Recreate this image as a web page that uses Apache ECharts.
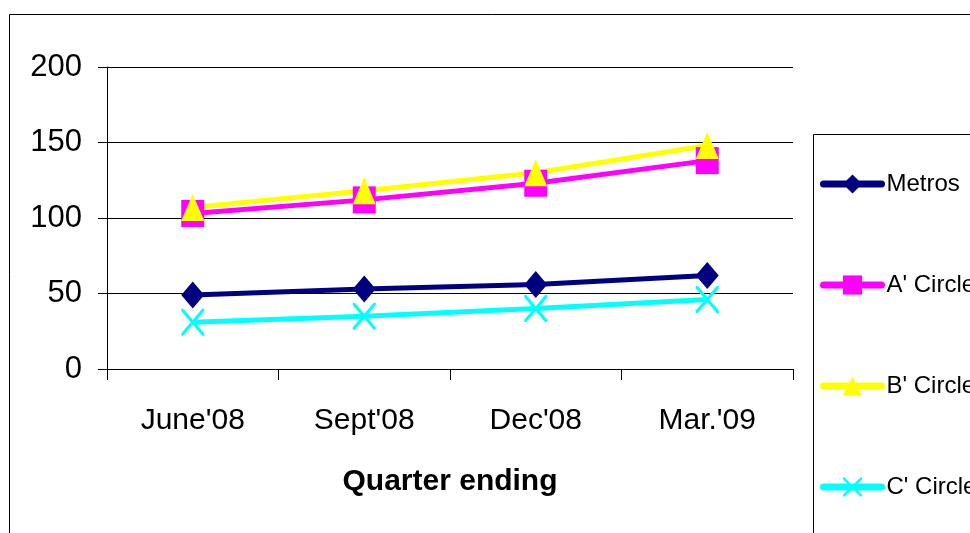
<!DOCTYPE html>
<html>
<head>
<meta charset="utf-8">
<script src="https://cdn.jsdelivr.net/npm/echarts@6/dist/echarts.min.js"></script>
<style>
  html, body { margin: 0; padding: 0; background: #fff; }
  #chart { width: 970px; height: 533px; }
</style>
</head>
<body>
<div id="chart"></div>
<script>
// Quarterly figures by circle category
const quarters = ["June'08", "Sept'08", "Dec'08", "Mar.'09"];
const metros  = [49, 53, 56, 62];
const aCircle = [103, 112, 123, 138];
const bCircle = [107, 118, 130, 148];
const cCircle = [31, 35, 40, 46];
const yTicks = { min: 0, max: 200, interval: 50 };

const FONT = "'Liberation Sans', Arial, sans-serif";
const crossPath = 'path://M0,0L9,0L50,41L91,0L100,0L100,9L59,50L100,91L100,100L91,100L50,59L9,100L0,100L0,91L41,50L0,9Z';

function lineSeries(name, data, color, symbol) {
  return {
    name: name,
    type: 'line',
    data: data,
    symbol: symbol,
    symbolSize: [23, 27],
    lineStyle: { color: color, width: 5 },
    itemStyle: { color: color },
    emphasis: { disabled: true },
    animation: false
  };
}

const chart = echarts.init(document.getElementById('chart'), null, { renderer: 'canvas' });
chart.setOption({
  backgroundColor: '#ffffff',
  animation: false,
  grid: { left: 107, top: 67, right: 177, bottom: 164 },
  xAxis: {
    type: 'category',
    data: quarters,
    boundaryGap: true,
    name: 'Quarter ending',
    nameLocation: 'middle',
    nameGap: 98,
    nameTextStyle: { fontFamily: FONT, fontSize: 30, fontWeight: 'bold', color: '#000' },
    axisLine: { lineStyle: { color: '#000', width: 1 } },
    axisTick: { show: true, length: 11, inside: false, lineStyle: { color: '#000' } },
    axisLabel: { fontFamily: FONT, fontSize: 30, color: '#000', margin: 37 }
  },
  yAxis: {
    type: 'value',
    min: yTicks.min,
    max: yTicks.max,
    interval: yTicks.interval,
    axisLine: { show: true, lineStyle: { color: '#000', width: 1 } },
    axisTick: { show: true, length: 9, lineStyle: { color: '#000' } },
    splitLine: { show: true, lineStyle: { color: '#000', width: 1 } },
    axisLabel: { fontFamily: FONT, fontSize: 31, color: '#000', margin: 25 }
  },
  legend: {
    orient: 'vertical',
    left: 815,
    top: 167,
    itemWidth: 58,
    itemHeight: 24,
    itemGap: 77,
    lineStyle: { width: 7, cap: 'round' },
    textStyle: { fontFamily: FONT, fontSize: 24, color: '#000' },
    data: ['Metros', "A' Circle", "B' Circle", "C' Circle"]
  },
  graphic: [
    { type: 'rect', shape: { x: 9.5, y: 14.5, width: 1000, height: 600 },
      style: { fill: null, stroke: '#000', lineWidth: 1 }, silent: true },
    { type: 'rect', shape: { x: 813.5, y: 134.5, width: 400, height: 600 },
      style: { fill: null, stroke: '#000', lineWidth: 1 }, silent: true }
  ],
  series: [
    lineSeries('Metros', metros, '#000080', 'diamond'),
    lineSeries("A' Circle", aCircle, '#ff00ff', 'rect'),
    lineSeries("B' Circle", bCircle, '#ffff00', 'triangle'),
    lineSeries("C' Circle", cCircle, '#00ffff', crossPath)
  ]
});
</script>
</body>
</html>
